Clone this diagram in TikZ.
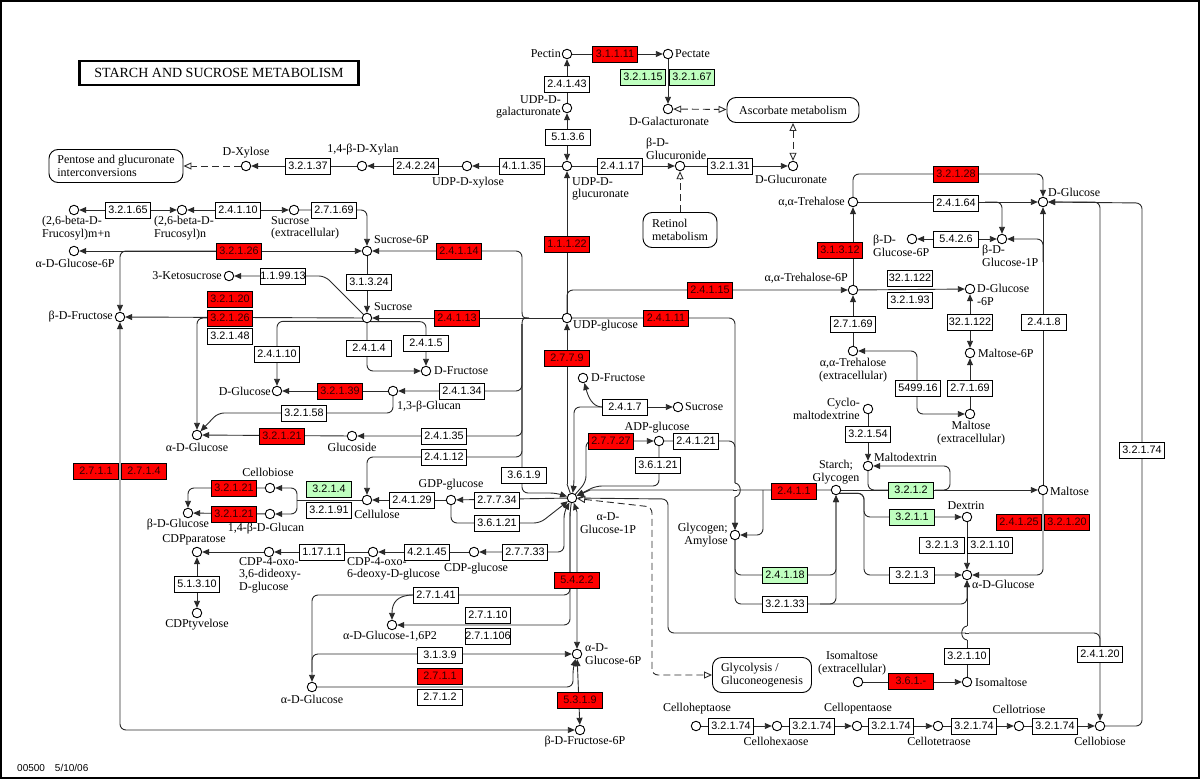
\documentclass[tikz,border=0pt]{standalone}
\usepackage{fontspec}
\setmainfont{Liberation Serif}
\newfontfamily\enzfont{Liberation Sans}
\usetikzlibrary{arrows.meta,calc}
\pgfdeclarelayer{bg}
\pgfsetlayers{bg,main}
\definecolor{kred}{HTML}{FF0000}
\definecolor{kgrn}{HTML}{BFFFBF}
\definecolor{ktxt}{HTML}{300000}
\definecolor{kln}{HTML}{2A2A2A}
\begin{document}
\begin{tikzpicture}[x=1pt,y=-1pt,
 cpd/.style={circle,draw=black,line width=0.9pt,fill=white,minimum size=9.5pt,inner sep=0pt},
 enz/.style={draw=black,line width=0.8pt,fill=white,minimum width=45pt,minimum height=16pt,inner sep=0pt,font=\enzfont\fontsize{10.8}{12}\selectfont},
 ered/.style={enz,fill=kred,text=ktxt},
 egrn/.style={enz,fill=kgrn},
 lbl/.style={inner sep=0pt,font=\fontsize{12}{12.5}\selectfont,align=left},
 lblc/.style={lbl,align=center},
 lblr/.style={lbl,align=right},
 mapb/.style={draw=black,line width=0.9pt,rounded corners=9pt,fill=white,inner sep=0pt,font=\fontsize{12}{13}\selectfont,align=left},
 ln/.style={draw=kln,line width=0.9pt},
 arr/.style={ln,-{Triangle[length=7pt,width=6pt]}},
 darr/.style={ln,{Triangle[length=7pt,width=6pt]}-{Triangle[length=7pt,width=6pt]}},
 sarr/.style={ln,{Triangle[length=7pt,width=6pt]}-},
 rc/.style={rounded corners=6pt},
 dsh/.style={ln,dash pattern=on 7pt off 4pt},
 oo/.style={dsh,{Triangle[open,fill=white,length=8pt,width=7pt]}-{Triangle[open,fill=white,length=8pt,width=7pt]}},
 o1/.style={dsh,-{Triangle[open,fill=white,length=8pt,width=7pt]}}
]
\useasboundingbox (0,0) rectangle (1200,779);
\draw[line width=2pt] (1,1) rectangle (1199,778);

% title and footer
\node[draw=black,line width=2.5pt,minimum width=279pt,minimum height=24pt,inner sep=0pt,font=\fontsize{14}{14}\selectfont] (title) at (219,73) {STARCH AND SUCROSE METABOLISM};
\node[anchor=west,inner sep=0pt,font=\enzfont\fontsize{10}{11}\selectfont] (foot) at (17,768) {00500\quad 5/10/06};

% map boxes
\node[mapb,minimum width=134pt,minimum height=33pt] (m1) at (116,166) {Pentose and glucuronate\\interconversions};
\node[mapb,minimum width=132pt,minimum height=25pt] (m2) at (793,110) {Ascorbate metabolism};
\node[mapb,minimum width=74pt,minimum height=35pt] (m3) at (680,230) {Retinol\\metabolism};
\node[mapb,minimum width=99pt,minimum height=35pt] (m4) at (762,675) {Glycolysis /\\Gluconeogenesis};

% compounds
\node[cpd] (pectin) at (567,54) {};
\node[cpd] (pectate) at (668,54) {};
\node[cpd] (udpgalA) at (567,108) {};
\node[cpd] (galA) at (668,109) {};
\node[cpd] (udpglcA) at (567,166) {};
\node[cpd] (glcAide) at (680,166) {};
\node[cpd] (glcA) at (793,166) {};
\node[cpd] (udpxyl) at (467,166) {};
\node[cpd] (xylan) at (362,166) {};
\node[cpd] (xyl) at (246,166) {};
\node[cpd] (fmn) at (74,210) {};
\node[cpd] (fn) at (182,210) {};
\node[cpd] (sucex) at (294,210) {};
\node[cpd] (suc6p) at (367,251) {};
\node[cpd] (g6pA) at (74,251) {};
\node[cpd] (ketosuc) at (229,276) {};
\node[cpd] (sucrose) at (367,318) {};
\node[cpd] (bfru) at (120,317) {};
\node[cpd] (udpglc) at (567,318) {};
\node[cpd] (fru1) at (426,371) {};
\node[cpd] (glcD1) at (277,391) {};
\node[cpd] (glucan13) at (393,391) {};
\node[cpd] (aglcL) at (197,435) {};
\node[cpd] (glucoside) at (352,436) {};
\node[cpd] (cellulose) at (367,500) {};
\node[cpd] (gdpglc) at (451,500) {};
\node[cpd] (cbioL) at (270,488) {};
\node[cpd] (glucan14) at (270,514) {};
\node[cpd] (bglc) at (188,513) {};
\node[cpd] (cdppar) at (197,552) {};
\node[cpd] (cdptyv) at (197,613) {};
\node[cpd] (cdpoxoA) at (269,552) {};
\node[cpd] (cdpoxoB) at (373,552) {};
\node[cpd] (cdpglc) at (474,552) {};
\node[cpd] (g1p) at (572,498) {};
\node[cpd] (fru2) at (583,378) {};
\node[cpd] (sucr2) at (678,407) {};
\node[cpd] (adpglc) at (659,441) {};
\node[cpd] (glc16p2) at (392,625) {};
\node[cpd] (aglcB) at (312,687) {};
\node[cpd] (g6p) at (577,654) {};
\node[cpd] (f6p) at (580,730) {};
\node[cpd] (tre6p) at (853,290) {};
\node[cpd] (treh) at (853,202) {};
\node[cpd] (dglcT) at (1043,202) {};
\node[cpd] (bg6p) at (912,239) {};
\node[cpd] (bg1p) at (1002,239) {};
\node[cpd] (dg6p) at (970,289) {};
\node[cpd] (mal6p) at (970,353) {};
\node[cpd] (trehex) at (853,351) {};
\node[cpd] (malex) at (970,414) {};
\node[cpd] (cyclo) at (868,409) {};
\node[cpd] (mdex) at (868,466) {};
\node[cpd] (starch) at (836,490) {};
\node[cpd] (maltose) at (1043,490) {};
\node[cpd] (glycogen) at (735,535) {};
\node[cpd] (dextrin) at (967,517) {};
\node[cpd] (aglcR) at (967,575) {};
\node[cpd] (isomalex) at (858,682) {};
\node[cpd] (isomal) at (967,682) {};
\node[cpd] (c7) at (696,726) {};
\node[cpd] (c6) at (777,726) {};
\node[cpd] (c5) at (857,726) {};
\node[cpd] (c4) at (938,726) {};
\node[cpd] (c3) at (1019,726) {};
\node[cpd] (c2) at (1100,726) {};

% enzymes
\node[ered] (e1) at (615,54) {3.1.1.11};
\node[enz] (e2) at (567,84) {2.4.1.43};
\node[enz] (e3) at (568,137) {5.1.3.6};
\node[egrn] (e4) at (643,77) {3.2.1.15};
\node[egrn] (e5) at (692,77) {3.2.1.67};
\node[enz] (e6) at (620,166) {2.4.1.17};
\node[enz] (e7) at (730,166) {3.2.1.31};
\node[enz] (e8) at (522,166) {4.1.1.35};
\node[enz] (e9) at (416,166) {2.4.2.24};
\node[enz] (e10) at (308,166) {3.2.1.37};
\node[ered] (e11) at (567,244) {1.1.1.22};
\node[enz] (e12) at (128,210) {3.2.1.65};
\node[enz] (e13) at (238,210) {2.4.1.10};
\node[enz] (e14) at (334,210) {2.7.1.69};
\node[ered] (e15) at (239,251) {3.2.1.26};
\node[ered] (e16) at (459,251) {2.4.1.14};
\node[enz] (e17) at (283,276) {1.1.99.13};
\node[enz] (e18) at (369,282) {3.1.3.24};
\node[ered] (e19) at (230,299) {3.2.1.20};
\node[ered] (e20) at (230,318) {3.2.1.26};
\node[enz] (e21) at (230,336) {3.2.1.48};
\node[ered] (e22) at (457,318) {2.4.1.13};
\node[enz] (e23) at (277,354) {2.4.1.10};
\node[enz] (e24) at (369,348) {2.4.1.4};
\node[enz] (e25) at (426,343) {2.4.1.5};
\node[ered] (e26) at (340,391) {3.2.1.39};
\node[enz] (e27) at (462,391) {2.4.1.34};
\node[enz] (e28) at (304,413) {3.2.1.58};
\node[ered] (e29) at (282,436) {3.2.1.21};
\node[enz] (e30) at (444,436) {2.4.1.35};
\node[enz] (e31) at (444,457) {2.4.1.12};
\node[enz] (e32) at (524,475) {3.6.1.9};
\node[egrn] (e33) at (329,489) {3.2.1.4};
\node[enz] (e34) at (329,510) {3.2.1.91};
\node[enz] (e35) at (412,500) {2.4.1.29};
\node[enz] (e36) at (497,500) {2.7.7.34};
\node[enz] (e37) at (497,523) {3.6.1.21};
\node[ered] (e38) at (234,488) {3.2.1.21};
\node[ered] (e39) at (234,514) {3.2.1.21};
\node[ered] (e40) at (96,471) {2.7.1.1};
\node[ered] (e41) at (144,471) {2.7.1.4};
\node[enz] (e42) at (197,584) {5.1.3.10};
\node[enz] (e43) at (322,552) {1.17.1.1};
\node[enz] (e44) at (427,552) {4.2.1.45};
\node[enz] (e45) at (525,552) {2.7.7.33};
\node[enz] (e46) at (436,595) {2.7.1.41};
\node[enz] (e47) at (488,615) {2.7.1.10};
\node[enz] (e48) at (488,636) {2.7.1.106};
\node[enz] (e49) at (440,655) {3.1.3.9};
\node[ered] (e50) at (440,676) {2.7.1.1};
\node[enz] (e51) at (440,697) {2.7.1.2};
\node[ered] (e52) at (577,580) {5.4.2.2};
\node[ered] (e53) at (580,700) {5.3.1.9};
\node[ered] (e54) at (567,358) {2.7.7.9};
\node[ered] (e55) at (710,290) {2.4.1.15};
\node[ered] (e56) at (666,318) {2.4.1.11};
\node[enz] (e57) at (625,407) {2.4.1.7};
\node[ered] (e58) at (611,441) {2.7.7.27};
\node[enz] (e59) at (696,441) {2.4.1.21};
\node[enz] (e60) at (658,465) {3.6.1.21};
\node[ered] (e61) at (794,491) {2.4.1.1};
\node[egrn] (e62) at (785,575) {2.4.1.18};
\node[enz] (e63) at (785,604) {3.2.1.33};
\node[ered] (e64) at (956,174) {3.2.1.28};
\node[enz] (e65) at (956,203) {2.4.1.64};
\node[enz] (e66) at (956,239) {5.4.2.6};
\node[ered] (e67) at (840,250) {3.1.3.12};
\node[enz] (e68) at (910,278) {32.1.122};
\node[enz] (e69) at (910,300) {3.2.1.93};
\node[enz] (e70) at (970,322) {32.1.122};
\node[enz] (e71) at (970,388) {2.7.1.69};
\node[enz] (e72) at (918,388) {5499.16};
\node[enz] (e73) at (853,324) {2.7.1.69};
\node[enz] (e74) at (868,434) {3.2.1.54};
\node[egrn] (e75) at (911,490) {3.2.1.2};
\node[egrn] (e76) at (912,517) {3.2.1.1};
\node[enz] (e77) at (912,575) {3.2.1.3};
\node[enz] (e78) at (942,545) {3.2.1.3};
\node[enz] (e79) at (990,545) {3.2.1.10};
\node[ered] (e80) at (1019,522) {2.4.1.25};
\node[ered] (e81) at (1067,522) {3.2.1.20};
\node[enz] (e82) at (1044,322) {2.4.1.8};
\node[enz] (e83) at (1142,450) {3.2.1.74};
\node[enz] (e84) at (1100,654) {2.4.1.20};
\node[enz] (e85) at (967,656) {3.2.1.10};
\node[ered] (e86) at (911,681) {3.6.1.-};
\node[enz] (e87) at (731,726) {3.2.1.74};
\node[enz] (e88) at (812,726) {3.2.1.74};
\node[enz] (e89) at (891,726) {3.2.1.74};
\node[enz] (e90) at (974,726) {3.2.1.74};
\node[enz] (e91) at (1055,726) {3.2.1.74};

% labels
\node[lbl,anchor=east] (lPectin) at (561,54) {Pectin};
\node[lbl,anchor=west] (lPectate) at (675,54) {Pectate};
\node[lblr,anchor=east] (lUdpgalA) at (561,107) {UDP-D-\\galacturonate};
\node[lbl] (lGalA) at (669,121) {D-Galacturonate};
\node[lbl,anchor=west] (lGlcAide) at (646,149) {β-D-\\Glucuronide};
\node[lbl] (lGlcA) at (791,179) {D-Glucuronate};
\node[lbl,anchor=west] (lUdpglcA) at (572,189) {UDP-D-\\glucuronate};
\node[lbl] (lUdpxyl) at (468,183) {UDP-D-xylose};
\node[lbl] (lXylan) at (363,150) {1,4-β-D-Xylan};
\node[lbl] (lXyl) at (246,153) {D-Xylose};
\node[lbl,anchor=west] (lFmn) at (42,228) {(2,6-beta-D-\\Frucosyl)m+n};
\node[lbl,anchor=west] (lFn) at (154,228) {(2,6-beta-D-\\Frucosyl)n};
\node[lbl,anchor=west] (lSucex) at (271,228) {Sucrose\\(extracellular)};
\node[lbl,anchor=west] (lSuc6p) at (374,240) {Sucrose-6P};
\node[lbl] (lG6pA) at (75,263) {α-D-Glucose-6P};
\node[lbl,anchor=east] (lKeto) at (222,276) {3-Ketosucrose};
\node[lbl,anchor=west] (lSucrose) at (374,307) {Sucrose};
\node[lbl,anchor=east] (lBfru) at (113,317) {β-D-Fructose};
\node[lbl,anchor=west] (lUdpglc) at (573,326) {UDP-glucose};
\node[lbl,anchor=west] (lFru1) at (434,371) {D-Fructose};
\node[lbl,anchor=east] (lGlcD1) at (271,391) {D-Glucose};
\node[lbl,anchor=west] (lGlucan13) at (397,407) {1,3-β-Glucan};
\node[lbl] (lAglcL) at (197,447) {α-D-Glucose};
\node[lbl] (lGlucoside) at (352,447) {Glucoside};
\node[lbl] (lGdpglc) at (451,485) {GDP-glucose};
\node[lbl] (lCellulose) at (377,514) {Cellulose};
\node[lbl] (lCbioL) at (268,472) {Cellobiose};
\node[lbl] (lGlucan14) at (266,529) {1,4-β-D-Glucan};
\node[lbl] (lBglc) at (178,525) {β-D-Glucose};
\node[lbl] (lCdppar) at (194,540) {CDPparatose};
\node[lbl] (lCdptyv) at (197,625) {CDPtyvelose};
\node[lbl,anchor=west] (lCdpoxoA) at (239,575) {CDP-4-oxo-\\3,6-dideoxy-\\D-glucose};
\node[lbl,anchor=west] (lCdpoxoB) at (347,569) {CDP-4-oxo-\\6-deoxy-D-glucose};
\node[lbl] (lCdpglc) at (476,569) {CDP-glucose};
\node[lbl] (lGlc16) at (390,636) {α-D-Glucose-1,6P2};
\node[lbl] (lAglcB) at (312,699) {α-D-Glucose};
\node[lbl,anchor=west] (lG6p) at (585,654) {α-D-\\Glucose-6P};
\node[lbl] (lF6p) at (585,742) {β-D-Fructose-6P};
\node[lblc] (lG1p) at (608,523) {α-D-\\Glucose-1P};
\node[lbl,anchor=west] (lFru2) at (591,378) {D-Fructose};
\node[lbl,anchor=west] (lSucr2) at (685,407) {Sucrose};
\node[lbl] (lAdpglc) at (657,428) {ADP-glucose};
\node[lblr,anchor=east] (lGlycogen) at (728,535) {Glycogen;\\Amylose};
\node[lblc] (lStarch) at (836,472) {Starch;\\Glycogen};
\node[lbl,anchor=west] (lMdex) at (874,457) {Maltodextrin};
\node[lblr,anchor=east] (lCyclo) at (860,409) {Cyclo-\\maltodextrine};
\node[lbl,anchor=east] (lTre6p) at (848,278) {α,α-Trehalose-6P};
\node[lbl,anchor=east] (lTreh) at (845,202) {α,α-Trehalose};
\node[lblc] (lTrehex) at (853,370) {α,α-Trehalose\\(extracellular)};
\node[lbl,anchor=west] (lDg6p) at (977,295) {D-Glucose\\-6P};
\node[lbl,anchor=west] (lMal6p) at (978,353) {Maltose-6P};
\node[lblc] (lMalex) at (971,433) {Maltose\\(extracellular)};
\node[lbl,anchor=west] (lBg6p) at (873,246) {β-D-\\Glucose-6P};
\node[lbl,anchor=west] (lBg1p) at (982,256) {β-D-\\Glucose-1P};
\node[lbl,anchor=west] (lDglcT) at (1048,192) {D-Glucose};
\node[lbl,anchor=west] (lMaltose) at (1050,491) {Maltose};
\node[lbl] (lDextrin) at (966,506) {Dextrin};
\node[lbl,anchor=west] (lAglcR) at (972,584) {α-D-Glucose};
\node[lblc] (lIsomalex) at (852,663) {Isomaltose\\(extracellular)};
\node[lbl,anchor=west] (lIsomal) at (975,682) {Isomaltose};
\node[lbl] (lC7) at (697,709) {Celloheptaose};
\node[lbl] (lC6) at (776,741) {Cellohexaose};
\node[lbl] (lC5) at (858,709) {Cellopentaose};
\node[lbl] (lC4) at (939,741) {Cellotetraose};
\node[lbl] (lC3) at (1019,709) {Cellotriose};
\node[lbl] (lC2) at (1100,741) {Cellobiose};

% waypoints
\coordinate (k1) at (325,276);
\coordinate (bus1) at (522,312);
\coordinate (busj) at (529,318);
\coordinate (bus2) at (522,324);
\coordinate (c12) at (367,457);
\coordinate (wb) at (556,493);
\coordinate (g58) at (218,413);
\coordinate (br) at (297,500);
\coordinate (q1) at (540,523);
\coordinate (q2) at (564,512);
\coordinate (w41) at (570,512);
\coordinate (c41) at (312,595);
\coordinate (w542) at (577,512);
\coordinate (c39) at (312,672);
\coordinate (w271) at (573,668);
\coordinate (w79) at (567,484);
\coordinate (w7) at (574,484);
\coordinate (w27) at (586,482);
\coordinate (w21) at (596,486);
\coordinate (w11x) at (590,490);
\coordinate (w20) at (668,499);
\coordinate (j20) at (1100,633);
\coordinate (j20b) at (1100,648);
\coordinate (wd1) at (652,507);
\coordinate (w11b) at (763,490);
\coordinate (w18) at (800,575);
\coordinate (w33) at (800,604);
\coordinate (w33c) at (820,604);
\coordinate (w2a) at (888,490);
\coordinate (w2b) at (935,490);
\coordinate (w2c) at (950,466);
\coordinate (w1) at (864,517);
\coordinate (w1d) at (864,575);
\coordinate (w8) at (1043,262);
\coordinate (w28) at (1000,174);
\coordinate (w64) at (985,202);
\coordinate (w74) at (1142,203);
\coordinate (w99) at (917,414);

\begin{pgfonlayer}{bg}
% top
\draw[arr] (pectin) -- (pectate);
\draw[arr] (udpgalA) -- (pectin);
\draw[darr] (udpglcA) -- (udpgalA);
\draw[arr] (pectate) -- (galA);
\draw[oo] (galA) -- (m2);
\draw[oo] (m2) -- (glcA);
\draw[arr] (udpglcA) -- (glcAide);
\draw[arr] (glcAide) -- (glcA);
\draw[o1] (m3) -- (glcAide);
\draw[arr] (udpglcA) -- (udpxyl);
\draw[arr] (udpxyl) -- (xylan);
\draw[arr] (xylan) -- (xyl);
\draw[o1] (xyl) -- (m1);
\draw[arr] (udpglc) -- (udpglcA);
% sucrose area
\draw[darr] (fmn) -- (fn);
\draw[darr] (fn) -- (sucex);
\draw[arr,rc] (sucex) -| (suc6p);
\draw[darr] (suc6p) -- (g6pA);
\draw[arr,rc] (e15.west) -| (bfru);
\draw[arr] (suc6p) -- (sucrose);
\draw[arr,rc] (sucrose) -- (k1) -- (ketosuc);
\draw[arr] (udpglc) -- (sucrose);
\draw[arr] (sucrose) -- (bfru);
\draw[arr,rc] (e20.west) -| (aglcL);
\draw[arr,rc] (sucrose.220) -| (glcD1);
\draw[arr,rc] (sucrose) |- (fru1);
\draw[arr,rc] (sucrose.-45) -| (fru1);
\draw[arr] (glucan13) -- (glcD1);
\draw[arr,rc] (glucan13) |- (g58) -- (aglcL);
\draw[arr] (glucoside) -- (aglcL);
% bus
\draw[arr,rc] (bus1) |- (suc6p);
\draw[ln] (bus1) .. controls (522,318) and (524,318) .. (busj);
\draw[ln] (busj) .. controls (524,318) and (522,318) .. (bus2);
\draw[arr,rc] (bus2) |- (glucan13);
\draw[arr,rc] (bus2) |- (glucoside);
\draw[arr,rc] (bus2) |- (c12) -- (cellulose);
\draw[arr,rc] (bus2) |- (wb) -- (g1p);
% cellulose
\draw[arr] (gdpglc) -- (cellulose);
\draw[arr] (g1p) -- (gdpglc);
\draw[arr,rc] (gdpglc) |- (q1) -- (g1p);
\draw[ln] (cellulose) -- (br);
\draw[arr,rc] (br) |- (cbioL);
\draw[arr,rc] (br) |- (glucan14);
\draw[arr,rc] (cbioL) -| (bglc);
\draw[arr] (glucan14) -- (bglc);
% CDP sugars
\draw[darr] (cdppar) -- (cdptyv);
\draw[arr] (cdpoxoA) -- (cdppar);
\draw[arr] (cdpoxoB) -- (cdpoxoA);
\draw[arr] (cdpglc) -- (cdpoxoB);
\draw[darr,rc] (cdpglc) -| (q2) -- (g1p);
% glucose phosphates
\draw[arr,rc] (g1p) -- (w41) |- (c41) -- (aglcB);
\draw[arr,rc] (w41) |- (glc16p2);
\draw[arr] (e46.west) .. controls (397,595) and (392,603) .. (glc16p2);
\draw[darr] (g1p) -- (w542) -- (g6p);
\draw[arr,rc] (c39) |- (g6p);
\draw[arr,rc] (aglcB) -| (w271) -- (g6p);
\draw[darr] (g6p) -- (f6p);
\draw[darr,rc] (bfru) |- (f6p);
% UDP-glucose right
\draw[ln] (g1p) -- (w79);
\draw[arr] (w79) -- (udpglc);
\draw[arr,rc] (e57.west) -| (w7) -- (g1p);
\draw[arr] (e57.west) .. controls (592,407) and (588,396) .. (fru2);
\draw[arr] (e57) -- (sucr2);
\draw[arr,rc] (g1p) -- (w27) |- (adpglc);
\draw[arr,rc] (adpglc) |- (w21) -- (g1p);
\draw[arr,rc] (udpglc) |- (tre6p);
\draw[arr,rc] (udpglc) -| (glycogen);
\draw[arr,rc] (adpglc) -| (glycogen);
\draw[arr] (starch) -- (w11x) -- (g1p);
\draw[arr,rc] (w11b) |- (glycogen);
\draw[sarr,rc] (g1p) -- (w20) |- (j20) -- (j20b);
\draw[oo,rc] (g1p) -- (wd1) |- (m4);
% starch
\draw[arr,rc] (glycogen) |- (w18) -| (starch);
\draw[arr,rc] (glycogen) |- (w33) -| (aglcR);
\draw[arr,rc] (w33c) -| (starch);
\draw[arr] (starch) -- (maltose);
\draw[ln,rc] (mdex) |- (w2a);
\draw[arr,rc] (w2b) -| (w2c) -- (mdex);
\draw[arr] (cyclo) -- (mdex);
\draw[arr,rc] (starch.-40) -| (w1) -- (dextrin);
\draw[arr,rc] (starch.-40) -| (w1d) -- (aglcR);
\draw[arr] (dextrin) -- (aglcR);
\draw[arr,rc] (maltose) |- (aglcR);
\draw[arr] (isomal) -- (aglcR);
\draw[arr] (isomalex) -- (isomal);
% cellodextrins
\draw[arr] (c7) -- (c6);
\draw[arr] (c6) -- (c5);
\draw[arr] (c5) -- (c4);
\draw[arr] (c4) -- (c3);
\draw[arr] (c3) -- (c2);
\draw[darr,rc] (c2) |- (dglcT);
\draw[arr,rc] (c2) -| (w74) -- (dglcT);
% trehalose
\draw[arr] (maltose) -- (dglcT);
\draw[arr,rc] (w8) |- (bg1p);
\draw[arr,rc] (treh) |- (w28) -| (dglcT);
\draw[arr] (treh) -- (dglcT);
\draw[arr,rc] (w64) -| (bg1p);
\draw[darr] (bg6p) -- (bg1p);
\draw[arr] (tre6p) -- (treh);
\draw[arr] (tre6p) -- (dg6p);
\draw[darr] (dg6p) -- (mal6p);
\draw[arr] (malex) -- (mal6p);
\draw[arr] (trehex) -- (tre6p);
\draw[darr,rc] (trehex) -| (w99) -- (malex);
% line hops
\fill[white] (733.5,483) rectangle (736.5,497);
\draw[ln] (733,490) -- (737,490);
\draw[ln] (735,483) .. controls (742,484) and (742,496) .. (735,497);
\fill[white] (965.5,626) rectangle (968.5,640);
\draw[ln] (965,633) -- (969,633);
\draw[ln] (967,626) .. controls (960,627) and (960,639) .. (967,640);
\end{pgfonlayer}
\end{tikzpicture}
\end{document}
